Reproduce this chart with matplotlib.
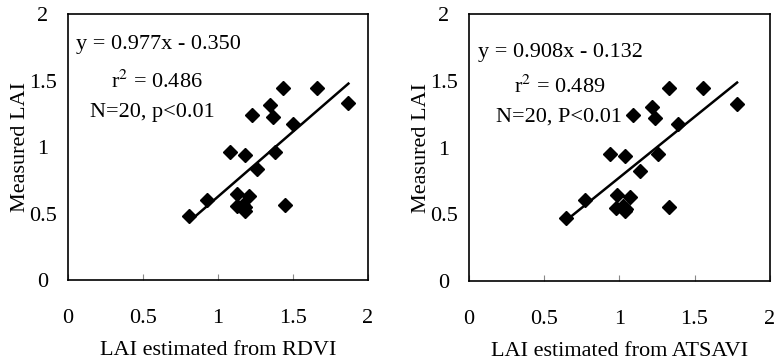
import numpy as np
import matplotlib.pyplot as plt

plt.rcParams['font.family'] = ['Liberation Serif', 'DejaVu Serif']
plt.rcParams['mathtext.fontset'] = 'stix'

# Daten
x_rdvi = [0.81, 0.93, 1.08, 1.18, 1.13, 1.21, 1.125, 1.165, 1.178, 1.178,
          1.227, 1.262, 1.349, 1.367, 1.378, 1.433, 1.444, 1.50, 1.66, 1.87]
x_atsavi = [0.642, 0.771, 0.937, 1.037, 0.985, 1.07, 0.981, 1.021, 1.037, 1.041,
            1.092, 1.136, 1.220, 1.240, 1.254, 1.331, 1.331, 1.391, 1.557, 1.783]
lai_rdvi = [0.48, 0.60, 0.96, 0.94, 0.645, 0.635, 0.556, 0.564, 0.519, 0.551,
            1.241, 0.835, 1.316, 1.223, 0.96, 1.441, 0.564, 1.173, 1.441, 1.328]
lai_atsavi = [0.475, 0.605, 0.955, 0.938, 0.645, 0.632, 0.545, 0.563, 0.527, 0.543,
              1.243, 0.825, 1.305, 1.218, 0.955, 1.443, 0.555, 1.175, 1.443, 1.33]

fits = [(0.977, -0.350), (0.908, -0.132)]
xlabels = ['LAI estimated from RDVI', 'LAI estimated from ATSAVI']
eq_texts = ['y = 0.977x - 0.350', 'y = 0.908x - 0.132']
r2_texts = ['r$^2$ = 0.486', 'r$^2$ = 0.489']
n_texts = ['N=20, p<0.01', 'N=20, P<0.01']
ticks = [0, 0.5, 1, 1.5, 2]
tick_labels = ['0', '0.5', '1', '1.5', '2']

fs = 16
fig = plt.figure(figsize=(7.77, 3.6), dpi=100)
ax1 = fig.add_axes([0.0875, 0.222, 0.386, 0.739])
ax2 = fig.add_axes([0.6036, 0.219, 0.387, 0.742])

panels = [(ax1, x_rdvi, lai_rdvi, (0.053, 1.77), (0.59, 1.49), (0.56, 1.26)),
          (ax2, x_atsavi, lai_atsavi, (0.06, 1.71), (0.60, 1.455), (0.60, 1.23))]

for i, (ax, xd, yd, p_eq, p_r2, p_n) in enumerate(panels):
    ax.plot(xd, yd, 'D', color='black', markersize=7.5)
    k, d = fits[i]
    xl = np.array([min(xd), max(xd)])
    ax.plot(xl, k * xl + d, '-', color='black', linewidth=1.8)
    ax.set_xlim(0, 2)
    ax.set_ylim(0, 2)
    ax.set_xticks(ticks)
    ax.set_xticklabels(tick_labels)
    ax.set_yticks(ticks)
    ax.set_yticklabels(tick_labels, ha='center')
    ax.tick_params(axis='x', direction='in', length=4, width=0.8, color='#888888',
                   pad=21, labelsize=fs)
    ax.tick_params(axis='y', length=0, pad=18, labelsize=fs)
    for s in ax.spines.values():
        s.set_linewidth(1.2)
        s.set_color('black')
    ax.set_xlabel(xlabels[i], fontsize=fs, labelpad=9)
    ax.set_ylabel('Measured LAI', fontsize=fs, labelpad=-1)
    ax.text(p_eq[0], p_eq[1], eq_texts[i], fontsize=fs, ha='left', va='center')
    ax.text(p_r2[0], p_r2[1], r2_texts[i], fontsize=fs, ha='center', va='center')
    ax.text(p_n[0], p_n[1], n_texts[i], fontsize=fs, ha='center', va='center')

fig.savefig('out.png', dpi=100)
